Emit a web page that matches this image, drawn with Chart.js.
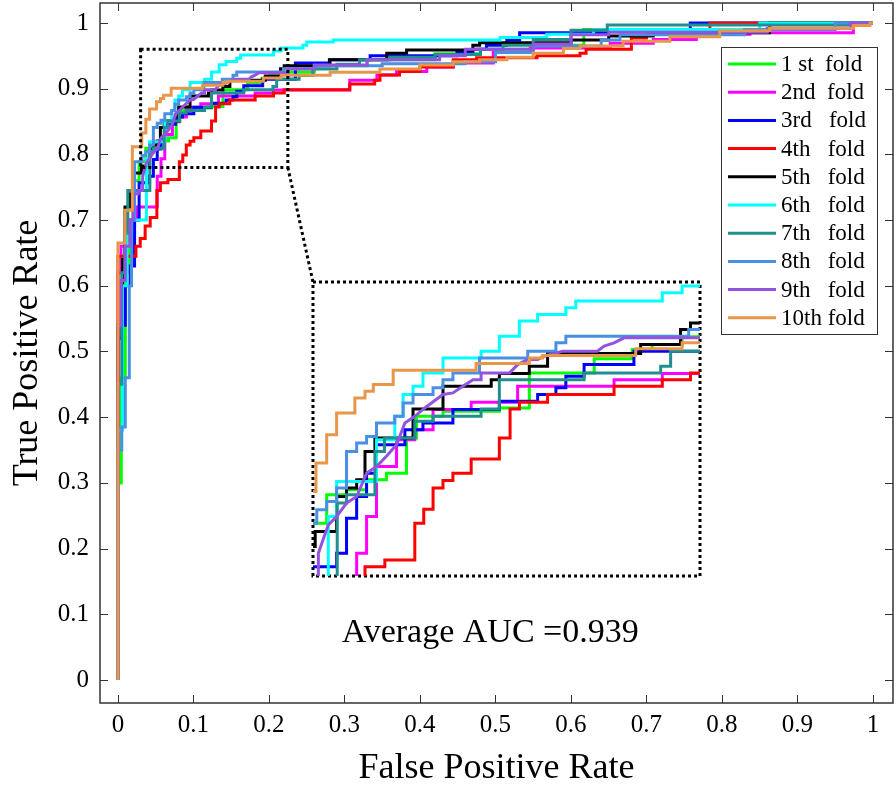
<!DOCTYPE html>
<html>
<head>
<meta charset="utf-8">
<script src="https://cdn.jsdelivr.net/npm/chart.js@4.4.1/dist/chart.umd.min.js"></script>
<style>
  html, body { margin: 0; padding: 0; background: #fff; }
  #wrap { position: relative; width: 896px; height: 787px; }
  #main { position: absolute; left: 0; top: 0; }
  #zoom { position: absolute; }
</style>
</head>
<body>
<div id="wrap">
  <canvas id="main" width="896" height="787"></canvas>
  <canvas id="zoom"></canvas>
</div>
<script>
// ROC points per fold, [fpr, tpr]; a run ends at fpr, then the curve climbs to the next tpr.
// A third entry of 1 means a straight (tied-score) segment from the previous point.
const fold1 = [[0,0],[0.0044,0.30],[0.0097,0.46],[0.015,0.62],[0.02,0.70],[0.028,0.76],[0.0369,0.7886],[0.0469,0.8094],[0.057,0.813],[0.067,0.8204],[0.0771,0.8252],[0.0821,0.8509],[0.0955,0.8668],[0.1239,0.8704],[0.139,0.8729],[0.1717,0.8985],[0.1909,0.9088],[0.2009,0.9157],[0.216,0.9193],[0.26,0.925],[0.33,0.935],[0.42,0.944],[0.48,0.953],[0.55,0.96],[0.617,0.966],[0.864,0.99],[1,1]]
const fold2 = [[0,0],[0.004,0.62],[0.012,0.66],[0.025,0.70],[0.052,0.72],[0.057,0.7666],[0.062,0.7935],[0.0721,0.8301],[0.0813,0.8497],[0.0905,0.857],[0.1097,0.8717],[0.1331,0.877],[0.1817,0.8888],[0.206,0.8936],[0.307,0.898],[0.343,0.913],[0.369,0.921],[0.409,0.926],[0.444,0.933],[0.497,0.939],[0.546,0.955],[0.652,0.962],[0.709,0.969],[0.766,0.975],[0.837,0.983],[0.974,0.985],[1,1]]
const fold3 = [[0,0],[0.005,0.52],[0.0097,0.54],[0.016,0.60],[0.022,0.63],[0.028,0.70],[0.0419,0.7568],[0.0469,0.7666],[0.052,0.7923],[0.057,0.8081],[0.062,0.8252],[0.0763,0.846],[0.0854,0.857],[0.1005,0.8619],[0.1239,0.8717],[0.1432,0.8778],[0.1524,0.8827],[0.1574,0.8876],[0.1666,0.8961],[0.1917,0.9046],[0.235,0.9144],[0.281,0.939],[0.334,0.944],[0.449,0.95],[0.47,0.955],[0.488,0.96],[0.515,0.966],[0.532,0.974],[0.65,0.985],[0.758,0.99],[1,1]]
const fold4 = [[0,0],[0.0238,0.645],[0.0295,0.66],[0.036,0.672],[0.0427,0.691],[0.0515,0.704],[0.0562,0.745],[0.0662,0.7568],[0.0813,0.7617],[0.0858,0.7886],[0.0905,0.7989],[0.0955,0.8143],[0.1005,0.8199],[0.1097,0.8252],[0.1239,0.8355],[0.1293,0.8509],[0.134,0.8722],[0.1482,0.877],[0.1817,0.8827],[0.206,0.8888],[0.2202,0.8936],[0.307,0.8985],[0.34,0.907],[0.347,0.913],[0.373,0.921],[0.4,0.926],[0.444,0.933],[0.475,0.944],[0.555,0.947],[0.612,0.95],[0.62,0.954],[0.68,0.96],[0.7,0.977],[0.784,0.985],[1,1]]
const fold5 = [[0,0],[0.006,0.54],[0.0093,0.64],[0.0159,0.72],[0.0203,0.74],[0.0311,0.7715],[0.0419,0.7825],[0.0469,0.8081],[0.052,0.8143],[0.0562,0.8204],[0.0612,0.8411],[0.0804,0.8509],[0.0955,0.8722],[0.1198,0.8888],[0.1239,0.8936],[0.139,0.898],[0.1482,0.9034],[0.1951,0.9127],[0.2152,0.9193],[0.2202,0.9303],[0.28,0.935],[0.356,0.944],[0.3823,0.954],[0.47,0.959],[0.479,0.966],[0.6,0.97],[0.65,0.974],[0.709,0.98],[0.863,0.985],[1,1]]
const fold6 = [[0,0],[0.006,0.38],[0.012,0.60],[0.018,0.68],[0.0377,0.70],[0.0419,0.7935],[0.062,0.8191],[0.0712,0.8497],[0.0754,0.8668],[0.0804,0.8827],[0.0854,0.8888],[0.0955,0.8985],[0.1147,0.9095],[0.1239,0.9144],[0.134,0.9254],[0.1432,0.9364],[0.1574,0.9413],[0.1624,0.9462],[0.206,0.9511],[0.216,0.9572],[0.245,0.9621],[0.25,0.966],[0.285,0.971],[0.506,0.974],[0.568,0.978],[0.63,0.983],[0.85,0.99],[1,1]]
const fold7 = [[0,0],[0.005,0.45],[0.009,0.62],[0.013,0.68],[0.0422,0.745],[0.0469,0.8033],[0.0612,0.8094],[0.066,0.8411],[0.0813,0.8509],[0.0905,0.8631],[0.1147,0.8668],[0.1239,0.8722],[0.1666,0.8936],[0.2052,0.8985],[0.2102,0.9034],[0.24,0.9144],[0.258,0.92],[0.29,0.93],[0.32,0.937],[0.36,0.944],[0.42,0.948],[0.48,0.952],[0.51,0.96],[0.55,0.966],[0.6,0.975],[0.648,0.989],[0.99,0.997],[1,1]]
const fold8 = [[0,0],[0.005,0.35],[0.0097,0.385],[0.015,0.46],[0.018,0.60],[0.022,0.70],[0.0319,0.7886],[0.0369,0.7984],[0.0419,0.8045],[0.0469,0.8143],[0.052,0.8411],[0.057,0.8472],[0.062,0.8521],[0.0712,0.8619],[0.0754,0.8668],[0.0804,0.8765],[0.0905,0.8827],[0.0955,0.8876],[0.1005,0.8936],[0.1139,0.8985],[0.1382,0.9095],[0.1524,0.9144],[0.1574,0.9205],[0.2193,0.9254],[0.26,0.9303],[0.35,0.935],[0.46,0.938],[0.5,0.941],[0.55,0.955],[0.64,0.965],[0.665,0.974],[0.83,0.982],[0.95,0.99],[1,1]]
const fold9 = [[0,0],[0.004,0.539],[0.0097,0.608],[0.016,0.66],[0.02,0.70],[0.027,0.74],[0.0327,0.745],[0.0327,0.7666,1],[0.0377,0.7874,1],[0.0419,0.7935,1],[0.0469,0.8033,1],[0.052,0.8081,1],[0.057,0.8252,1],[0.062,0.8301,1],[0.067,0.8375,1],[0.0721,0.846,1],[0.0763,0.8619,1],[0.0813,0.8668,1],[0.0863,0.8729,1],[0.0955,0.8827,1],[0.1005,0.8839,1],[0.1055,0.8888,1],[0.1106,0.8936,1],[0.1147,0.8936,1],[0.1147,0.8985,1],[0.129,0.8985,1],[0.1331,0.9046,1],[0.1382,0.9083,1],[0.1432,0.9083,1],[0.1465,0.9107,1],[0.1557,0.9144,1],[0.1733,0.9144,1],[0.1767,0.9181,1],[0.1817,0.9205,1],[0.1867,0.9242,1],[0.2252,0.9242,1],[0.26,0.93],[0.33,0.936],[0.426,0.944],[0.46,0.95],[0.55,0.96],[0.6,0.968],[0.65,0.982],[0.86,0.986],[0.97,0.992],[1,1]]
const fold10 = [[0,0],[0.0093,0.665],[0.019,0.715],[0.0315,0.8118],[0.0369,0.8326],[0.0419,0.8533],[0.0511,0.8692],[0.0562,0.8802],[0.0604,0.8851],[0.0704,0.89],[0.1122,0.9005],[0.139,0.9054],[0.1457,0.9095],[0.1926,0.9112],[0.216,0.9161],[0.281,0.9205],[0.347,0.925],[0.4,0.93],[0.444,0.936],[0.479,0.941],[0.515,0.944],[0.55,0.948],[0.59,0.954],[0.612,0.961],[0.669,0.965],[0.731,0.972],[0.797,0.979],[0.863,0.988],[0.974,0.992],[0.996,0.996],[1,1]]

const folds = [fold1, fold2, fold3, fold4, fold5, fold6, fold7, fold8, fold9, fold10]
const foldLabels = ['1 st  fold', '2nd  fold', '3rd   fold', '4th   fold', '5th   fold', '6th   fold', '7th   fold', '8th   fold', '9th   fold', '10th fold']
const tickValues = [0, 0.1, 0.2, 0.3, 0.4, 0.5, 0.6, 0.7, 0.8, 0.9, 1]
const aucText = 'Average AUC =0.939'

const foldColors = ['#00ff00', '#ff00ff', '#0000ff', '#ff0000', '#000000', '#00ffff', '#1f8f8f', '#4a90e2', '#9254de', '#e8964a']
const serif = "'Liberation Serif', 'Times New Roman', serif"

// zoom window on the main axes, where its magnified copy sits, and the copy's limits
const zoomWindow = { x0: 0.03, x1: 0.225, y0: 0.78, y1: 0.96 }
const zoomBox = { x0: 0.2583, x1: 0.7709, y0: 0.1583, y1: 0.6058 }
const zoomLimits = { xmin: 0.03, xmax: 0.225, ymin: 0.75, ymax: 0.965 }

Chart.defaults.font.family = serif
Chart.defaults.color = '#000'

function stairs(steps) {
  const pts = []
  let prev = null
  for (const s of steps) {
    if (prev && !s[2]) pts.push({ x: prev[0], y: s[1] })
    pts.push({ x: s[0], y: s[1] })
    prev = s
  }
  return pts
}

function lineSets() {
  return folds.map((f, i) => ({
    label: foldLabels[i],
    data: stairs(f),
    borderColor: foldColors[i],
    borderWidth: 3,
    pointRadius: 0,
    tension: 0,
    fill: false,
    clip: 0,
    order: folds.length - i
  }))
}

const fmt = v => String(Math.round(v * 10) / 10)

const framePlugin = {
  id: 'frame',
  afterDraw(chart) {
    const { ctx, chartArea: a } = chart
    const x = chart.scales.x, y = chart.scales.y
    const line = (x1, y1, x2, y2) => { ctx.beginPath(); ctx.moveTo(x1, y1); ctx.lineTo(x2, y2); ctx.stroke() }
    ctx.save()
    ctx.strokeStyle = '#333'
    ctx.lineWidth = 1
    x.ticks.forEach(t => {
      const px = Math.round(x.getPixelForValue(t.value)) + 0.5
      line(px, a.bottom, px, a.bottom - 8)
      line(px, a.top, px, a.top + 8)
    })
    y.ticks.forEach(t => {
      const py = Math.round(y.getPixelForValue(t.value)) + 0.5
      line(a.left, py, a.left + 8, py)
      line(a.right, py, a.right - 8, py)
    })
    ctx.lineWidth = 1.5
    ctx.strokeRect(a.left, a.top, a.right - a.left, a.bottom - a.top)

    // dotted zoom marks
    ctx.strokeStyle = '#000'
    ctx.lineWidth = 3
    ctx.setLineDash([3, 3])
    const rect = r => {
      const l = x.getPixelForValue(r.x0), rr = x.getPixelForValue(r.x1)
      const t = y.getPixelForValue(r.y1), b = y.getPixelForValue(r.y0)
      ctx.strokeRect(l, t, rr - l, b - t)
    }
    rect(zoomWindow)
    rect(zoomBox)
    line(x.getPixelForValue(zoomWindow.x1), y.getPixelForValue(zoomWindow.y0),
         x.getPixelForValue(zoomBox.x0), y.getPixelForValue(zoomBox.y1))
    ctx.setLineDash([])

    // AUC note
    ctx.fillStyle = '#000'
    ctx.font = '34px ' + serif
    ctx.textAlign = 'center'
    ctx.textBaseline = 'middle'
    ctx.fillText(aucText, x.getPixelForValue(0.493), y.getPixelForValue(0.0715))

    // legend
    const lx = a.right - 172, ly = a.top + 44, lw = 156, lh = 287
    ctx.fillStyle = '#fff'
    ctx.fillRect(lx, ly, lw, lh)
    ctx.strokeStyle = '#333'
    ctx.lineWidth = 1
    ctx.strokeRect(lx + 0.5, ly + 0.5, lw, lh)
    ctx.font = '23px ' + serif
    ctx.textAlign = 'left'
    chart.data.datasets.forEach((ds, i) => {
      const ry = ly + 17 + i * 28.2
      ctx.strokeStyle = ds.borderColor
      ctx.lineWidth = 3
      line(lx + 7, ry, lx + 55, ry)
      ctx.fillStyle = '#000'
      ctx.fillText(ds.label, lx + 60, ry + 1)
    })
    ctx.restore()
  }
}

const mainChart = new Chart(document.getElementById('main'), {
  type: 'line',
  data: { datasets: lineSets() },
  options: {
    responsive: false,
    animation: false,
    devicePixelRatio: 1,
    events: [],
    layout: { padding: { left: 0, right: 3, top: 3, bottom: 0 } },
    plugins: { legend: { display: false }, tooltip: { enabled: false } },
    scales: {
      x: {
        type: 'linear', min: -0.0238, max: 1.0265,
        grid: { display: false, drawTicks: false },
        border: { display: false },
        afterBuildTicks: s => { s.ticks = tickValues.map(v => ({ value: v })) },
        afterFit: s => { s.height = 84; s.paddingLeft = 0; s.paddingRight = 0 },
        ticks: { font: { size: 25 }, padding: 7, autoSkip: false, maxRotation: 0, callback: fmt },
        title: { display: true, text: 'False Positive Rate', font: { size: 36, lineHeight: 1 }, padding: { top: 0, bottom: 0 } }
      },
      y: {
        type: 'linear', min: -0.035, max: 1.0304,
        grid: { display: false, drawTicks: false },
        border: { display: false },
        afterBuildTicks: s => { s.ticks = tickValues.map(v => ({ value: v })) },
        afterFit: s => { s.width = 100; s.paddingTop = 0; s.paddingBottom = 0 },
        ticks: { font: { size: 25 }, padding: 11, autoSkip: false, callback: fmt },
        title: { display: true, text: 'True Positive Rate', font: { size: 36, lineHeight: 1 }, padding: { top: 10, bottom: 0 } }
      }
    }
  },
  plugins: [framePlugin]
})

// magnified copy of the zoom window
const xs = mainChart.scales.x, ys = mainChart.scales.y
const zl = xs.getPixelForValue(zoomBox.x0), zr = xs.getPixelForValue(zoomBox.x1)
const zt = ys.getPixelForValue(zoomBox.y1), zb = ys.getPixelForValue(zoomBox.y0)
const zc = document.getElementById('zoom')
zc.width = Math.round(zr - zl)
zc.height = Math.round(zb - zt)
zc.style.left = Math.round(zl) + 'px'
zc.style.top = Math.round(zt) + 'px'

new Chart(zc, {
  type: 'line',
  data: { datasets: lineSets() },
  options: {
    responsive: false,
    animation: false,
    devicePixelRatio: 1,
    events: [],
    layout: { padding: 0 },
    plugins: { legend: { display: false }, tooltip: { enabled: false } },
    scales: {
      x: { type: 'linear', display: false, min: zoomLimits.xmin, max: zoomLimits.xmax },
      y: { type: 'linear', display: false, min: zoomLimits.ymin, max: zoomLimits.ymax }
    }
  }
})
</script>
</body>
</html>
